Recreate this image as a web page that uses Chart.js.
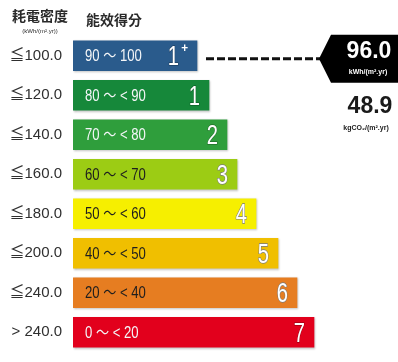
<!DOCTYPE html>
<html>
<head>
<meta charset="utf-8">
<script src="https://cdn.jsdelivr.net/npm/chart.js@4"></script>
<style>
  html, body { margin: 0; padding: 0; background: #fff; overflow: hidden; }
  #wrap { width: 398px; height: 362px; overflow: hidden; }
</style>
</head>
<body>
<div id="wrap"><canvas id="label" width="398" height="372"></canvas></div>
<script>
// energy density bands (kWh/m².yr) and their efficiency score ranges
const densityLabels = ['≦100.0', '≦120.0', '≦140.0', '≦160.0', '≦180.0', '≦200.0', '≦240.0', '> 240.0'];
const densityLimits = [100, 120, 140, 160, 180, 200, 240, Infinity];
const scoreRanges = ['90 ～ 100', '80 ～ < 90', '70 ～ < 80', '60 ～ < 70', '50 ～ < 60', '40 ～ < 50', '20 ～ < 40', '0 ～ < 20'];
const grades = ['1+', '1', '2', '3', '4', '5', '6', '7'];
const barLengths = [124, 136, 154, 164, 183, 205, 224, 241];
const barColors = ['#2a5b8c', '#16883a', '#2f9e3c', '#9ccc14', '#f6ef00', '#f0bf00', '#e67d21', '#e2001c'];
const darkText = [false, false, false, true, true, true, true, false];

// building result
const usage = 96.0;
const carbon = 48.9;

const sans = '"Liberation Sans", Arial, "Noto Sans CJK TC", sans-serif';
const cjk = '"Noto Sans CJK TC", "Noto Sans CJK SC", sans-serif';

// draw text squeezed horizontally (condensed look)
function narrowText(ctx, text, x, y, sx, stroke) {
  ctx.save();
  ctx.translate(x, y);
  ctx.scale(sx, 1);
  if (stroke) ctx.strokeText(text, 0, 0);
  ctx.fillText(text, 0, 0);
  ctx.restore();
}

const labelPlugin = {
  id: 'labelText',
  beforeDatasetsDraw(chart) {
    const ctx = chart.ctx;
    ctx.save();
    ctx.shadowColor = 'rgba(0,0,0,0.25)';
    ctx.shadowBlur = 2;
    ctx.shadowOffsetX = 1;
    ctx.shadowOffsetY = 1;
  },
  afterDatasetsDraw(chart) {
    const ctx = chart.ctx;
    ctx.restore();
    const meta = chart.getDatasetMeta(0);
    ctx.save();
    meta.data.forEach((bar, i) => {
      // score range inside bar
      ctx.font = '16px ' + sans;
      ctx.textAlign = 'left';
      ctx.textBaseline = 'middle';
      ctx.fillStyle = darkText[i] ? '#1e1e1e' : '#f4f6f8';
      narrowText(ctx, scoreRanges[i], bar.base + 12, bar.y + 1, 0.82, false);

      // grade number at bar end
      const g = grades[i];
      const main = g.replace('+', '');
      ctx.textAlign = 'right';
      ctx.lineWidth = 1.3;
      ctx.strokeStyle = darkText[i] ? '#7a7a7a' : 'rgba(0,0,0,0.3)';
      ctx.fillStyle = '#ffffff';
      let right = bar.x - 9;
      if (g.includes('+')) {
        ctx.font = 'bold 13px ' + sans;
        narrowText(ctx, '+', right, bar.y - 7, 0.9, false);
        right -= 9;
      }
      ctx.font = '28px ' + sans;
      narrowText(ctx, main, right, bar.y + 2, 0.72, true);
    });
    ctx.restore();
  },
  afterDraw(chart) {
    const ctx = chart.ctx;
    const y = chart.scales.y;
    const meta = chart.getDatasetMeta(0);
    ctx.save();

    // column headers
    ctx.fillStyle = '#2a2a2a';
    ctx.textBaseline = 'middle';
    ctx.textAlign = 'center';
    ctx.font = 'bold 14px ' + cjk;
    ctx.fillText('耗電密度', 40, 16);
    ctx.font = '6px ' + sans;
    ctx.fillText('(kWh/(m².yr))', 40, 31);
    ctx.font = 'bold 14px ' + cjk;
    ctx.textAlign = 'left';
    ctx.fillText('能效得分', 86, 20);

    // pointer to the band that holds the building's usage
    const idx = densityLimits.findIndex(v => usage <= v);
    const bar = meta.data[idx];
    const py = y.getPixelForValue(idx) + 3;
    const tip = 319;
    ctx.strokeStyle = '#111';
    ctx.lineWidth = 3;
    ctx.setLineDash([8, 3]);
    ctx.beginPath();
    ctx.moveTo(bar.x + 9, py);
    ctx.lineTo(tip + 2, py);
    ctx.stroke();
    ctx.setLineDash([]);

    ctx.fillStyle = '#000';
    ctx.beginPath();
    ctx.moveTo(tip, py);
    ctx.lineTo(tip + 12, py - 24);
    ctx.lineTo(400, py - 24);
    ctx.lineTo(400, py + 24);
    ctx.lineTo(tip + 12, py + 24);
    ctx.closePath();
    ctx.fill();

    ctx.textAlign = 'center';
    ctx.fillStyle = '#fff';
    ctx.font = 'bold 23px ' + sans;
    ctx.fillText(usage.toFixed(1), 369, py - 7);
    ctx.font = 'bold 7px ' + sans;
    ctx.fillText('kWh/(m².yr)', 368, py + 13);

    ctx.fillStyle = '#1a1a1a';
    ctx.font = 'bold 23px ' + sans;
    ctx.fillText(carbon.toFixed(1), 370, py + 48);
    ctx.font = 'bold 7px ' + sans;
    ctx.fillText('kgCO₂/(m².yr)', 366, py + 69);
    ctx.restore();
  }
};

new Chart(document.getElementById('label'), {
  type: 'bar',
  data: {
    labels: densityLabels,
    datasets: [{
      data: barLengths,
      backgroundColor: barColors,
      borderWidth: 0,
      barThickness: 30,
      categoryPercentage: 1
    }]
  },
  options: {
    indexAxis: 'y',
    responsive: false,
    animation: false,
    layout: { padding: { top: 36, bottom: 5, left: 0, right: 0 } },
    plugins: { legend: { display: false }, tooltip: { enabled: false } },
    scales: {
      x: {
        display: false,
        min: 0,
        max: 325
      },
      y: {
        grid: { display: false, drawTicks: false },
        border: { display: false },
        ticks: {
          padding: 11,
          color: '#2f2f2f',
          font: { family: sans, size: 15 }
        },
        afterFit(scale) { scale.width = 73; }
      }
    }
  },
  plugins: [labelPlugin]
});
</script>
</body>
</html>
